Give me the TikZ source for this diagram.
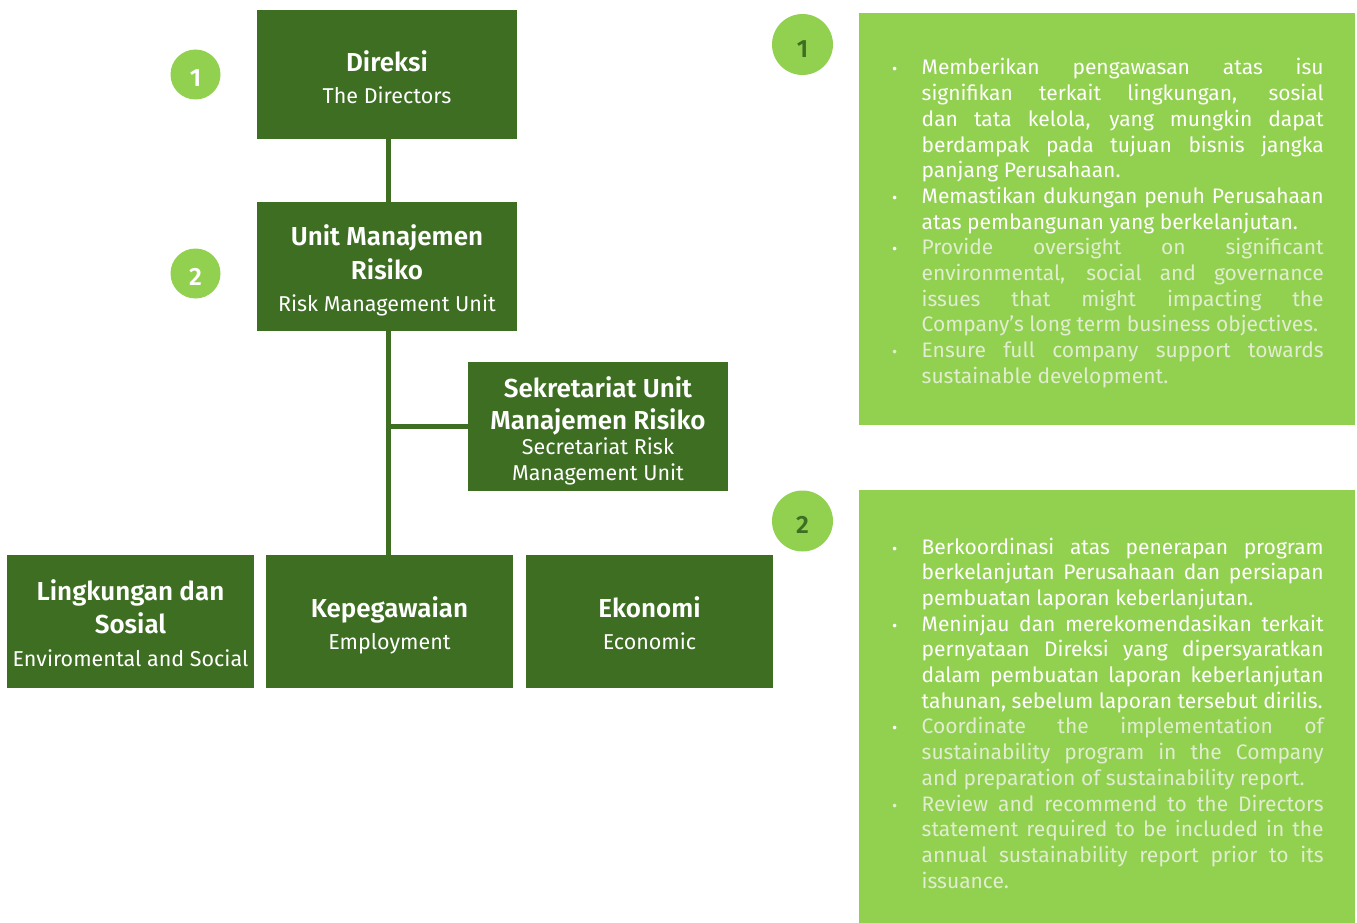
\documentclass[tikz,border=0pt]{standalone}
\usepackage{fontspec}
\setmainfont{Fira Sans}[BoldFont={Fira Sans SemiBold}]
\definecolor{dkgreen}{HTML}{3D6E22}
\definecolor{ltgreen}{HTML}{92D050}
\definecolor{paletext}{HTML}{E0EDD0}
\newcommand\ttlf{\fontsize{26}{31}\selectfont\bfseries}
\newcommand\subf{\fontsize{21.5}{26}\selectfont}
\newcommand\topln{\rule{0pt}{29pt}}
\newcommand\botln{\rule[-5pt]{0pt}{5pt}}
\newcommand\numdown[1]{\raisebox{#1}[0pt][0pt]}
\newcommand\bitem[1]{\hangindent=29.5pt\hangafter=1\noindent\makebox[29.5pt][l]{\fontsize{16}{16}\selectfont •}#1\par}
\begin{document}
\begin{tikzpicture}[x=1pt,y=-1pt,
  orgbox/.style={fill=dkgreen,text=white,inner sep=0pt,align=center,minimum width=#1,font=\subf},
  orgbox/.default=260pt,
  conn/.style={draw=dkgreen,line width=5pt},
  numL/.style={circle,fill=ltgreen,minimum size=50pt,inner sep=0pt,text=white,font=\fontsize{25}{25}\selectfont\bfseries},
  numR/.style={circle,fill=ltgreen,minimum size=61pt,inner sep=0pt,text=dkgreen,font=\fontsize{25}{25}\selectfont\bfseries},
  panel/.style={fill=ltgreen,inner sep=0pt,minimum width=496pt},
  ptext/.style={inner sep=0pt,text width=431.5pt,align=justify,text=white,font=\fontsize{21}{25.7}\selectfont}
]
\useasboundingbox (0,0) rectangle (1357,923);
% panels
\node[panel,minimum height=412pt] (p1) at (1107,219) {};
\node[panel,minimum height=433pt] (p2) at (1107,706.5) {};
% circles
\node[numL] (cL1) at (195.5,74.5) {\numdown{-11.6pt}{1}};
\node[numL] (cL2) at (195.5,273.5) {\numdown{-11.6pt}{2}};
\node[numR] (cR1) at (802.5,44.5) {\numdown{-12.6pt}{1}};
\node[numR] (cR2) at (802.5,521) {\numdown{-12.6pt}{2}};
% org boxes
\node[orgbox,minimum height=129pt] (dir) at (387,74.5) {{\ttlf\rule{0pt}{31pt}Direksi}\\[6.5pt]{\subf The Directors\botln}};
\node[orgbox,minimum height=129pt] (unit) at (387,266.5) {{\ttlf\topln Unit Manajemen}\\[5.5pt]{\ttlf Risiko}\\[6pt]{\subf Risk Management Unit\botln}};
\node[orgbox,minimum height=129pt] (sek) at (598,426.5) {{\ttlf\topln Sekretariat Unit}\\[6pt]{\ttlf Manajemen Risiko}\\[-1pt]{\subf Secretariat Risk}\\{\subf Management Unit\botln}};
\node[orgbox=247pt,minimum height=133pt] (lsos) at (130.5,621.5) {{\ttlf\topln Lingkungan dan}\\[5pt]{\ttlf Sosial}\\[7pt]{\subf Enviromental and Social\botln}};
\node[orgbox=247pt,minimum height=133pt] (kep) at (389.5,621.5) {{\ttlf\topln Kepegawaian}\\[6.5pt]{\subf Employment\botln}};
\node[orgbox=247pt,minimum height=133pt] (eko) at (649.5,621.5) {{\ttlf\topln Ekonomi}\\[6.5pt]{\subf Economic\botln}};
% connectors
\coordinate (jn) at (388,426.5);
\draw[conn] (dir.south -| jn) -- (unit.north -| jn);
\draw[conn] (unit.south -| jn) -- (kep.north -| jn);
\draw[conn] (jn) -- (sek.west);
% panel texts
\node[ptext,anchor=base west] (t1) at (892,75) {%
\bitem{Memberikan pengawasan atas isu\linebreak signifikan terkait lingkungan, sosial\linebreak dan tata kelola, yang mungkin dapat\linebreak berdampak pada tujuan bisnis jangka\linebreak panjang Perusahaan.}%
\bitem{Memastikan dukungan penuh Perusahaan\linebreak atas pembangunan yang berkelanjutan.}%
\bitem{\color{paletext}Provide oversight on significant\linebreak environmental, social and governance\linebreak issues that might impacting the\linebreak Company’s long term business objectives.}%
\bitem{\color{paletext}Ensure full company support towards\linebreak sustainable development.}%
};
\node[ptext,anchor=base west] (t2) at (892,554) {%
\bitem{Berkoordinasi atas penerapan program\linebreak berkelanjutan Perusahaan dan persiapan\linebreak pembuatan laporan keberlanjutan.}%
\bitem{Meninjau dan merekomendasikan terkait\linebreak pernyataan Direksi yang dipersyaratkan\linebreak dalam pembuatan laporan keberlanjutan\linebreak tahunan, sebelum laporan tersebut dirilis.}%
\bitem{\color{paletext}Coordinate the implementation of\linebreak sustainability program in the Company\linebreak and preparation of sustainability report.}%
\bitem{\color{paletext}Review and recommend to the Directors\linebreak statement required to be included in the\linebreak annual sustainability report prior to its\linebreak issuance.}%
};
\end{tikzpicture}
\end{document}
